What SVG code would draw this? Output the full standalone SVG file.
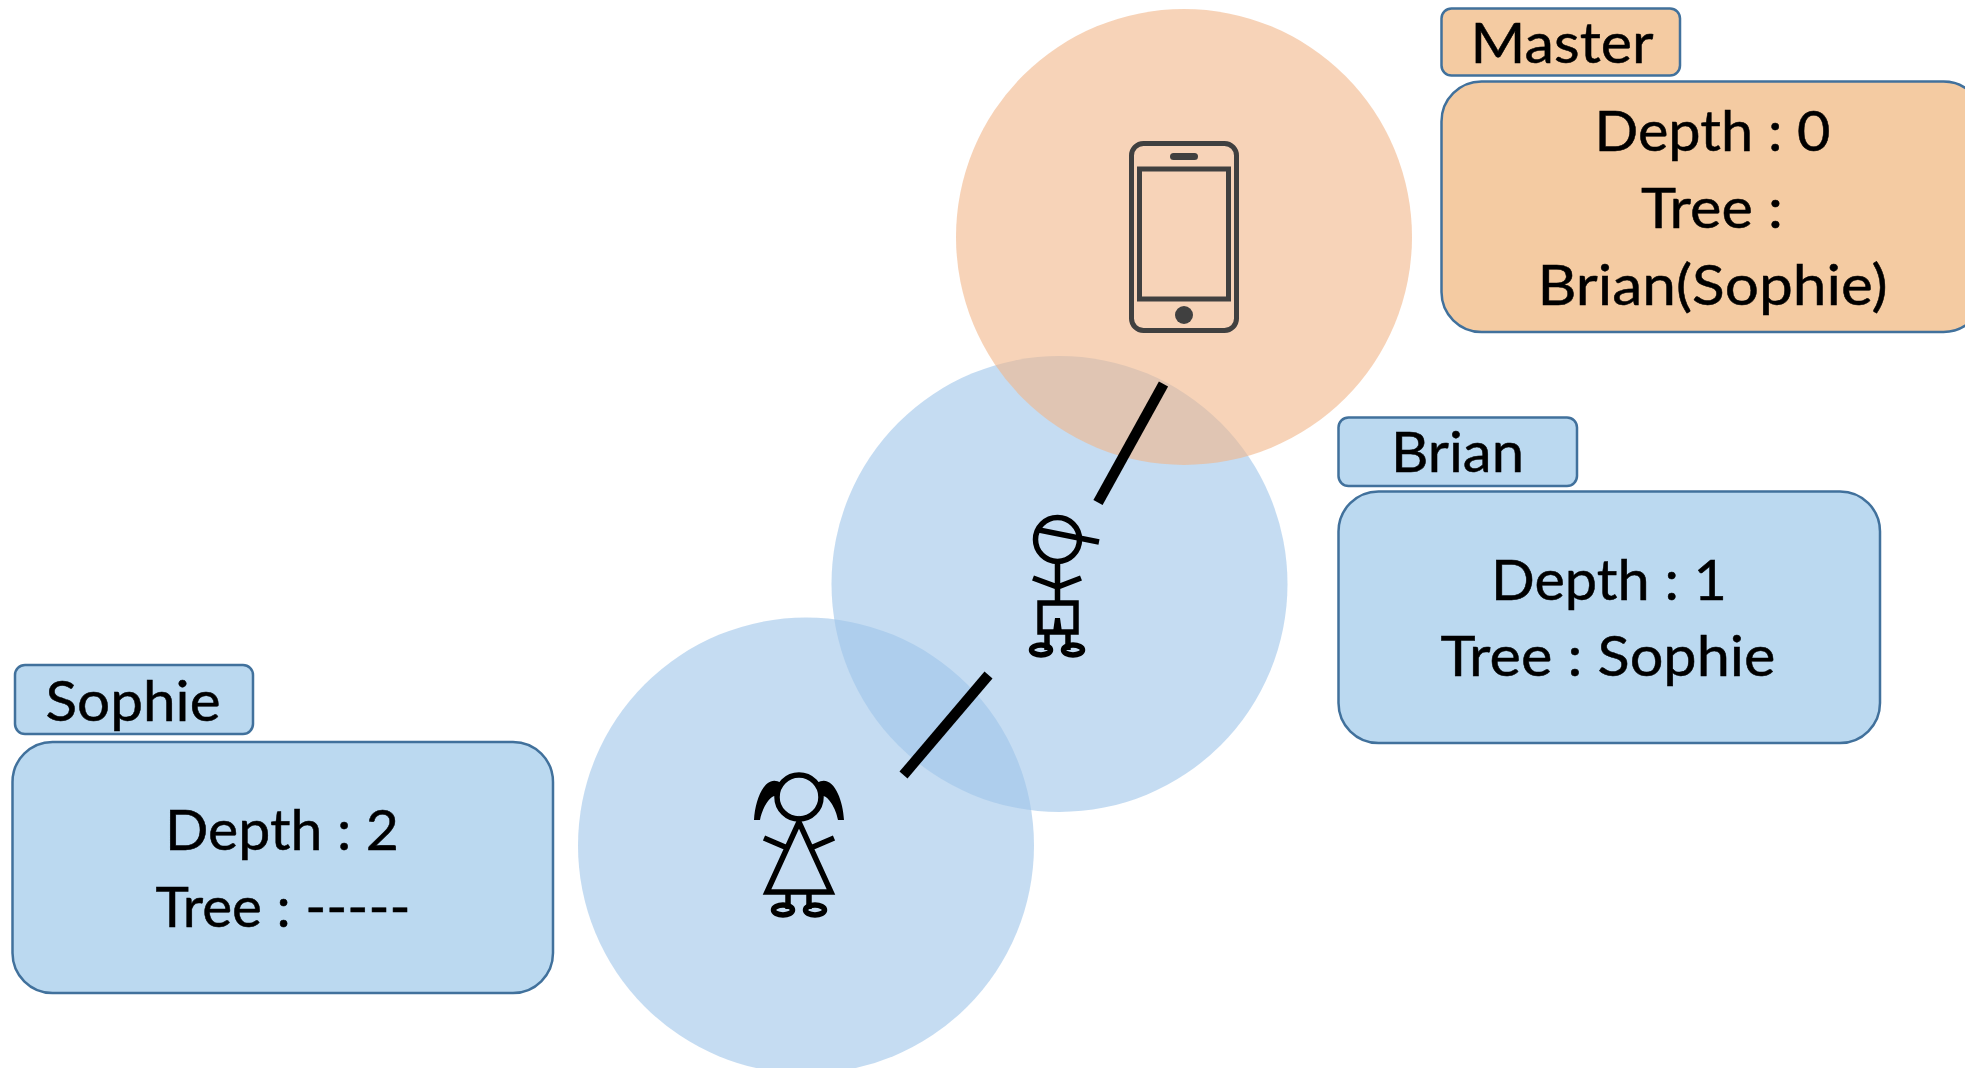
<svg xmlns="http://www.w3.org/2000/svg" width="1965" height="1068" viewBox="0 0 1965 1068">
<style>
text{font-family:"Lato","Open Sans","Liberation Sans",sans-serif;font-size:56px;fill:#000;stroke:#000;stroke-width:.5;text-anchor:middle}
.orange{fill:#f2b689;fill-opacity:.6}
.blue{fill:#9ec5e9;fill-opacity:.6}
.boxO{fill:#f4cba2;stroke:#41719c;stroke-width:2.5}
.boxB{fill:#bbd9f0;stroke:#41719c;stroke-width:2.5}
.ink{fill:none;stroke:#000;stroke-width:5.5}
.phone{fill:none;stroke:#404040;stroke-width:5}
.bar{stroke:#000;stroke-width:10.5}
</style>
<rect width="1965" height="1068" fill="#fff"/>
<g id="coverage">
<circle class="blue" cx="806" cy="845.5" r="228"/>
<circle class="blue" cx="1059.5" cy="584" r="228"/>
<circle class="orange" cx="1184" cy="237" r="228"/>
</g>
<g id="connectors">
<line class="bar" x1="1163.5" y1="384" x2="1098" y2="502.5"/>
<line class="bar" x1="988.5" y1="675" x2="903.5" y2="775"/>
</g>
<g id="master">
<g class="phone">
<rect x="1131.5" y="143.5" width="105" height="187" rx="12"/>
<rect x="1139.5" y="169" width="89" height="130"/>
</g>
<rect x="1170" y="153" width="28" height="7" rx="3.5" fill="#404040"/>
<circle cx="1184" cy="315" r="9" fill="#404040"/>
<rect class="boxO" x="1441.5" y="8.5" width="238.5" height="67" rx="10"/>
<text x="1562" y="63" textLength="183" lengthAdjust="spacingAndGlyphs">Master</text>
<rect class="boxO" x="1441.5" y="81.5" width="542" height="250.5" rx="40"/>
<text x="1712.5" y="151" textLength="236" lengthAdjust="spacingAndGlyphs">Depth : 0</text>
<text x="1712" y="228" textLength="142" lengthAdjust="spacingAndGlyphs">Tree :</text>
<text x="1712.5" y="305" textLength="350" lengthAdjust="spacingAndGlyphs">Brian(Sophie)</text>
</g>
<g id="brian">
<g class="ink">
<circle cx="1057.5" cy="539.5" r="22"/>
<path d="M1039 530L1099 542M1057.5 562V603M1033 578L1057.5 587L1081 578"/>
<rect x="1040" y="603" width="36" height="29"/>
<path d="M1047 632V650M1068 632V650"/>
<ellipse cx="1041" cy="650" rx="9.5" ry="5"/>
<ellipse cx="1073" cy="650" rx="9.5" ry="5"/>
</g>
<path d="M1053 632L1055 618H1060L1062 632Z" fill="#000"/>
<rect class="boxB" x="1338.5" y="417.5" width="238.5" height="68.5" rx="10"/>
<text x="1457.5" y="472" textLength="133" lengthAdjust="spacingAndGlyphs">Brian</text>
<rect class="boxB" x="1338.5" y="491.5" width="541.5" height="251.5" rx="40"/>
<text x="1609" y="599.5" textLength="236" lengthAdjust="spacingAndGlyphs">Depth : 1</text>
<text x="1608" y="676" textLength="335" lengthAdjust="spacingAndGlyphs">Tree : Sophie</text>
</g>
<g id="sophie">
<g class="ink">
<circle cx="799" cy="797" r="22"/>
<path d="M799 822L767 892H831ZM764 838L785 847M834 838L813 847M788 892V909M809 892V909"/>
<ellipse cx="783" cy="910" rx="9.5" ry="5"/>
<ellipse cx="815" cy="910" rx="9.5" ry="5"/>
</g>
<path d="M781 783C766 773 755 798 754 820H760C762 808 770 796 775 796C777 796 778 797 779 798Z" fill="#000"/>
<path d="M817 783C832 773 843 798 844 820H838C836 808 828 796 823 796C821 796 820 797 819 798Z" fill="#000"/>
<rect class="boxB" x="15" y="665" width="238" height="69" rx="10"/>
<text x="133" y="720.5" textLength="175" lengthAdjust="spacingAndGlyphs">Sophie</text>
<rect class="boxB" x="12.5" y="742" width="540.5" height="251" rx="40"/>
<text x="282" y="849.5" textLength="234" lengthAdjust="spacingAndGlyphs">Depth : 2</text>
<text x="283" y="926.5" textLength="255" lengthAdjust="spacingAndGlyphs">Tree : -----</text>
</g>
</svg>
